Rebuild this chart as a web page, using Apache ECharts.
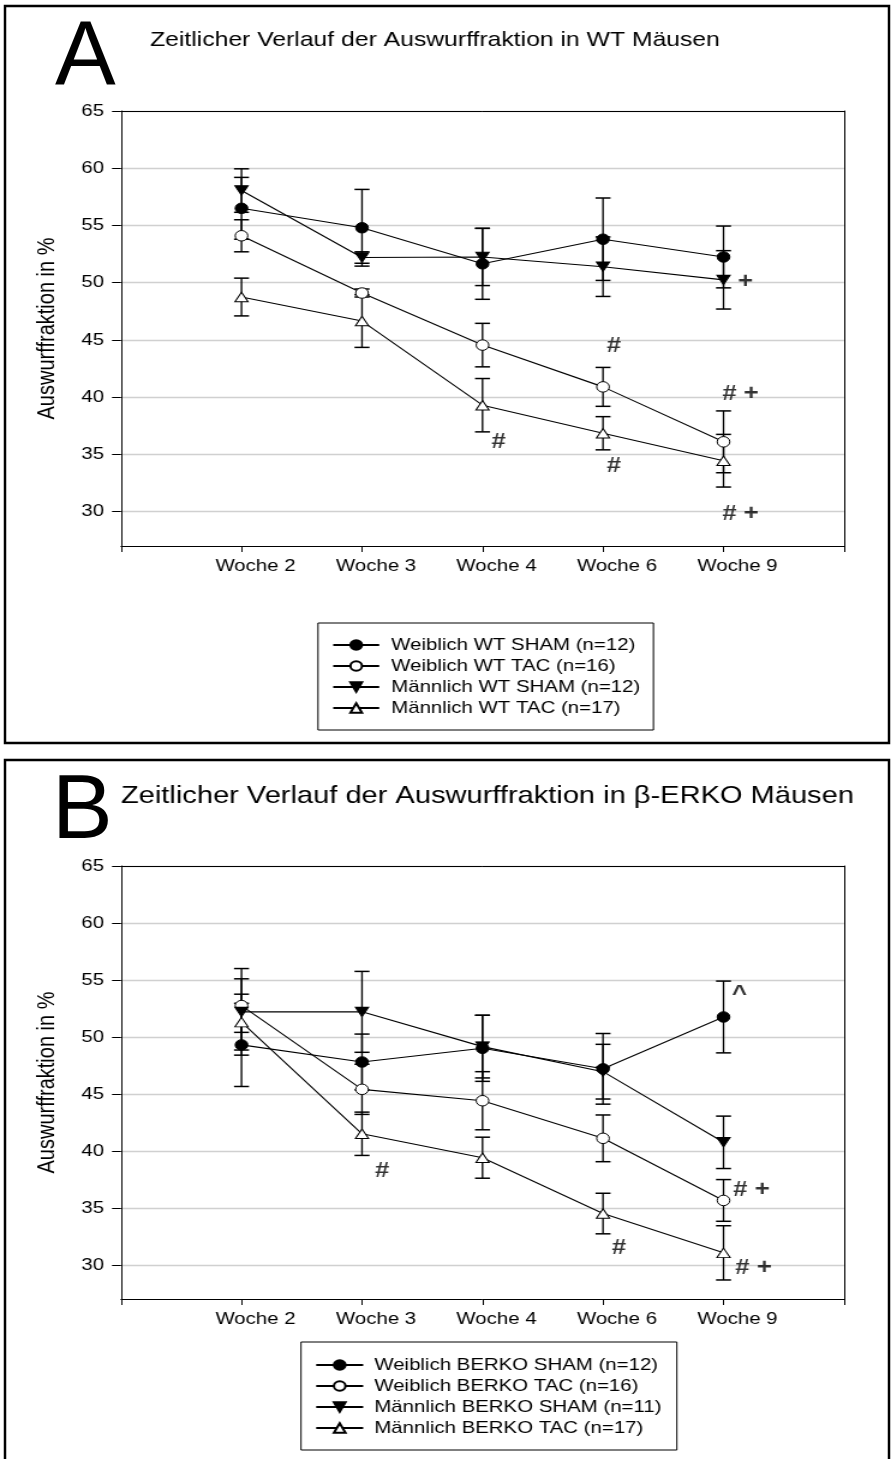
<!DOCTYPE html>
<html><head><meta charset="utf-8">
<script src="https://cdn.jsdelivr.net/npm/echarts@6/dist/echarts.min.js"></script>
<style>
html,body{margin:0;padding:0;background:#fff;overflow:hidden}
#wrap{position:relative;width:891px;height:1459px}
#c{position:absolute;left:0;top:0;width:742px;height:1459px;transform:scaleX(1.2008);transform-origin:0 0}
#o{position:absolute;left:0;top:0;width:891px;height:1459px;pointer-events:none}
</style>
</head><body><div id="wrap"><div id="c"></div><div id="o"></div></div>
<script>
// ---------- data ----------
const categories = ['Woche 2', 'Woche 3', 'Woche 4', 'Woche 6', 'Woche 9'];
const yTicks = [30, 35, 40, 45, 50, 55, 60, 65];

// Panel A (WT)
const namesA = ['Weiblich WT SHAM (n=12)', 'Weiblich WT TAC (n=16)', 'Männlich WT SHAM (n=12)', 'Männlich WT TAC (n=17)'];
const wtFemaleSham = [56.5, 54.8, 51.65, 53.8, 52.25];
const wtFemaleShamErr = [2.7, 3.35, 3.1, 3.6, 2.7];
const wtFemaleTac = [54.1, 49.1, 44.55, 40.9, 36.1];
const wtFemaleTacErr = [1.4, 0.35, 1.9, 1.7, 2.7];
const wtMaleSham = [58.05, 52.2, 52.25, 51.4, 50.25];
const wtMaleShamErr = [1.9, 0.5, 2.5, 2.6, 2.55];
const wtMaleTac = [48.75, 46.65, 39.3, 36.85, 34.45];
const wtMaleTacErr = [1.65, 2.3, 2.33, 1.45, 2.3];

// Panel B (beta-ERKO)
const namesB = ['Weiblich BERKO SHAM (n=12)', 'Weiblich BERKO TAC (n=16)', 'Männlich BERKO SHAM (n=11)', 'Männlich BERKO TAC (n=17)'];
const koFemaleSham = [49.3, 47.8, 49.0, 47.2, 51.75];
const koFemaleShamErr = [3.65, 2.45, 2.9, 3.1, 3.15];
const koFemaleTac = [52.75, 45.4, 44.4, 41.1, 35.65];
const koFemaleTacErr = [2.35, 2.2, 2.55, 2.05, 1.83];
const koMaleSham = [52.2, 52.2, 49.15, 46.95, 40.75];
const koMaleShamErr = [3.8, 3.55, 2.75, 2.4, 2.3];
const koMaleTac = [51.3, 41.5, 39.4, 34.5, 31.05];
const koMaleTacErr = [2.45, 1.9, 1.8, 1.78, 2.38];

// significance annotations
const annotA_cat = ['Woche 4', 'Woche 6', 'Woche 6', 'Woche 9', 'Woche 9', 'Woche 9'];
const annotA_val = [36.1, 44.5, 34.0, 50.05, 40.3, 29.8];
const annotA_text = ['#', '#', '#', '+', '# +', '# +'];
const annotB_cat = ['Woche 3', 'Woche 6', 'Woche 9', 'Woche 9', 'Woche 9'];
const annotB_val = [38.2, 31.45, 53.7, 36.6, 29.75];
const annotB_text = ['#', '#', '^', '# +', '# +'];

// ---------- layout / style (reference pixels, chart is stretched horizontally by K) ----------
const K = 891 / 742;
const sx = v => v / K;
const annotA_dx = [16, 11, 11, 22, 17, 17];
const annotB_dx = [20, 16, 16, 28, 30];
const FONT = "'Liberation Sans', Arial, sans-serif";
const axisCats = [''].concat(categories, [' ']);
const TRI_UP = 'path://M5,0 L10,9 L0,9 Z';
const TRI_DOWN = 'path://M0,0 L10,0 L5,9 Z';
const markerStyles = [
  { symbol: 'circle', size: 10.5, fill: '#000' },
  { symbol: 'circle', size: 10.5, fill: '#fff' },
  { symbol: TRI_DOWN, size: [11, 9.5], fill: '#000' },
  { symbol: TRI_UP, size: [11, 9.5], fill: '#fff' }
];

const chart = echarts.init(document.getElementById('c'), null, { renderer: 'canvas' });

const grids = [
  { left: sx(121), top: 111, width: sx(723), height: 435 },
  { left: sx(121), top: 866, width: sx(723), height: 433 }
];

const xAxes = [], yAxes = [], series = [];

function addPanel(gi, names, means, errs, aCat, aVal, aText, aDx) {
  const xMain = xAxes.length;
  xAxes.push({
    gridIndex: gi, type: 'category', data: axisCats, boundaryGap: false, position: 'bottom',
    axisLine: { show: true, lineStyle: { color: '#000', width: 1 } },
    axisTick: { show: true, interval: 0, length: 6, inside: false, lineStyle: { color: '#000' } },
    axisLabel: { interval: 0, color: '#000', fontSize: 17, fontFamily: FONT, margin: 12, padding: [0, 0, 0, 2 * sx(14)] },
    splitLine: { show: false }
  });
  xAxes.push({
    gridIndex: gi, type: 'category', data: axisCats, boundaryGap: false, position: 'top', z: 5,
    axisLine: { show: true, lineStyle: { color: '#000', width: 1 } },
    axisTick: { show: false }, axisLabel: { show: false }, splitLine: { show: false }
  });
  const yMain = yAxes.length;
  yAxes.push({
    gridIndex: gi, type: 'value', min: 27, max: 65, splitNumber: 8, position: 'left',
    name: 'Auswurffraktion in %', nameLocation: 'middle', nameGap: sx(61), nameRotate: 90,
    nameTextStyle: { color: '#000', fontSize: 20, fontFamily: FONT },
    axisLine: { show: true, lineStyle: { color: '#000', width: 1 } },
    axisTick: { show: true, length: sx(9), inside: false, customValues: yTicks, lineStyle: { color: '#000' } },
    axisLabel: { color: '#000', fontSize: 17, fontFamily: FONT, margin: sx(17), customValues: yTicks },
    splitLine: { show: true, lineStyle: { color: '#d0d0d0', width: 1.3 } }
  });
  yAxes.push({
    gridIndex: gi, type: 'value', min: 27, max: 65, position: 'right', z: 5,
    axisLine: { show: true, lineStyle: { color: '#000', width: 1 } },
    axisTick: { show: false }, axisLabel: { show: false }, splitLine: { show: false }
  });

  names.forEach((nm, k) => {
    const ms = markerStyles[k];
    series.push({
      type: 'custom', xAxisIndex: xMain, yAxisIndex: yMain, z: 2, silent: true,
      encode: { x: 0, y: [1, 2] },
      data: categories.map((c, i) => [c, means[k][i] - errs[k][i], means[k][i] + errs[k][i]]),
      renderItem: function (params, api) {
        const xi = api.value(0);
        const lo = api.coord([xi, api.value(1)]);
        const hi = api.coord([xi, api.value(2)]);
        const hw = sx(7.5);
        const st = { stroke: '#000', lineWidth: 1.5 };
        return { type: 'group', children: [
          { type: 'line', shape: { x1: lo[0], y1: lo[1], x2: hi[0], y2: hi[1] }, style: { stroke: '#000', lineWidth: 1.35 } },
          { type: 'line', shape: { x1: hi[0] - hw, y1: hi[1], x2: hi[0] + hw, y2: hi[1] }, style: st },
          { type: 'line', shape: { x1: lo[0] - hw, y1: lo[1], x2: lo[0] + hw, y2: lo[1] }, style: st }
        ] };
      }
    });
    series.push({
      name: nm, type: 'line', xAxisIndex: xMain, yAxisIndex: yMain, z: 3 + k * 0.1,
      data: categories.map((c, i) => [c, means[k][i]]),
      symbol: ms.symbol, symbolSize: ms.size, showAllSymbol: true,
      lineStyle: { color: '#000', width: 1.1 },
      itemStyle: { color: ms.fill, borderColor: '#000', borderWidth: 1 },
      emphasis: { disabled: true }
    });
  });

  series.push({
    type: 'scatter', xAxisIndex: xMain, yAxisIndex: yMain, z: 6, silent: true,
    symbol: 'circle', symbolSize: 0,
    data: aCat.map((c, i) => ({ value: [c, aVal[i]], name: aText[i], label: { offset: [sx(aDx[i]), 0] } })),
    label: { show: true, position: 'inside', formatter: p => p.name, color: '#000', fontSize: 21.5, fontWeight: 'bold', fontFamily: FONT }
  });
}

addPanel(0, namesA, [wtFemaleSham, wtFemaleTac, wtMaleSham, wtMaleTac],
  [wtFemaleShamErr, wtFemaleTacErr, wtMaleShamErr, wtMaleTacErr],
  annotA_cat, annotA_val, annotA_text, annotA_dx);
addPanel(1, namesB, [koFemaleSham, koFemaleTac, koMaleSham, koMaleTac],
  [koFemaleShamErr, koFemaleTacErr, koMaleShamErr, koMaleTacErr],
  annotB_cat, annotB_val, annotB_text, annotB_dx);

const legendBase = {
  orient: 'vertical', selectedMode: false, itemGap: 0, itemHeight: 12,
  borderColor: '#000', borderWidth: 1, backgroundColor: '#fff'
};

chart.setOption({
  animation: false,
  backgroundColor: '#fff',
  textStyle: { fontFamily: FONT },
  title: [
    { text: 'Zeitlicher Verlauf der Auswurffraktion in WT Mäusen', left: sx(144), top: 25,
      textStyle: { fontSize: 20.6, fontWeight: 'normal', color: '#000', fontFamily: FONT } },
    { text: 'Zeitlicher Verlauf der Auswurffraktion in β-ERKO Mäusen', left: sx(115), top: 779,
      textStyle: { fontSize: 24.2, fontWeight: 'normal', color: '#000', fontFamily: FONT } }
  ],
  grid: grids,
  xAxis: xAxes,
  yAxis: yAxes,
  legend: [
    Object.assign({}, legendBase, {
      data: namesA, left: sx(318), top: 623, itemWidth: sx(46), padding: [11.5, 11, 11.5, sx(14)],
      textStyle: { fontSize: 17, color: '#000', fontFamily: FONT, lineHeight: 21, width: 207, padding: [0, 0, 0, 5] }
    }),
    Object.assign({}, legendBase, {
      data: namesB, left: sx(301), top: 1342, itemWidth: sx(47), padding: [12.5, 12, 11.5, sx(14)],
      textStyle: { fontSize: 17, color: '#000', fontFamily: FONT, lineHeight: 21, width: 240, padding: [0, 0, 0, 4.2] }
    })
  ],
  series: series
});

// overlay: panel letters and panel frames (not stretched)
const overlay = echarts.init(document.getElementById('o'), null, { renderer: 'canvas' });
overlay.setOption({
  animation: false,
  title: [
    { text: 'A', left: 50, top: 8, textStyle: { fontSize: 91, fontWeight: 'normal', color: '#000', fontFamily: FONT } },
    { text: 'B', left: 47, top: 762, textStyle: { fontSize: 91, fontWeight: 'normal', color: '#000', fontFamily: FONT } }
  ],
  graphic: [
    { type: 'rect', shape: { x: 5, y: 6, width: 884, height: 737 }, style: { fill: 'none', stroke: '#000', lineWidth: 2.5 } },
    { type: 'rect', shape: { x: 5, y: 760, width: 884, height: 720 }, style: { fill: 'none', stroke: '#000', lineWidth: 2.5 } }
  ]
});
</script>
</body></html>
